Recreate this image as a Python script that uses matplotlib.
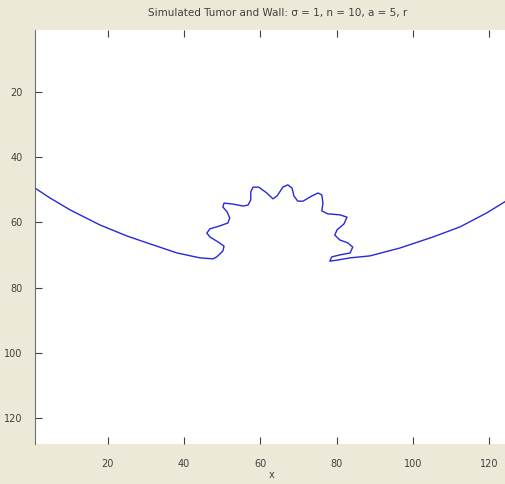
import numpy as np
import matplotlib
matplotlib.use("Agg")
import matplotlib.pyplot as plt

# contour of the simulated wall with the tumour bulging out of it (image coords, 1..128)
wall_x = [1.0, 4.9, 10.2, 18.0, 25.1, 31.1, 38.2, 44.2, 47.6, 48.6,
          50.2, 50.5, 48.9, 46.8, 46.0, 46.8, 49.4, 51.5, 52.0, 51.3,
          50.2, 50.5, 52.8, 55.5, 56.8, 57.5, 57.5, 58.1, 59.6, 61.7,
          63.3, 64.4, 65.9, 67.2, 68.3, 68.8, 69.8, 71.2, 73.5, 75.1,
          76.1, 76.4, 76.1, 77.7, 80.8, 82.7, 81.9, 80.1, 79.5, 80.8,
          82.9, 84.2, 83.5, 80.8, 78.7, 78.2, 80.1, 83.5, 88.7, 96.5,
          105.2, 112.3, 119.3, 124.3, 128.0]
wall_y = [49.5, 52.5, 56.2, 60.8, 64.2, 66.6, 69.4, 70.9, 71.2, 70.6,
          68.8, 67.3, 66.0, 64.5, 63.3, 62.0, 61.1, 60.2, 58.7, 56.8,
          55.3, 54.1, 54.4, 55.0, 54.7, 53.1, 50.7, 49.2, 49.2, 51.0,
          52.8, 51.9, 49.2, 48.5, 49.5, 51.9, 53.5, 53.5, 51.9, 51.0,
          51.6, 54.1, 56.5, 57.4, 57.7, 58.4, 60.5, 62.3, 63.9, 65.4,
          66.3, 67.6, 69.4, 70.0, 70.6, 71.9, 71.6, 70.9, 70.3, 67.9,
          64.5, 61.4, 57.1, 53.5, 51.0]

x_ticks = [20, 40, 60, 80, 100, 120]
y_ticks = [20, 40, 60, 80, 100, 120]
img_size = 128

plt.rcParams['font.family'] = ['DejaVu Sans']

fig = plt.figure(figsize=(5.06, 4.84), dpi=100, facecolor='#ece9d8')
# axes run a bit past the right edge of the window
ax = fig.add_axes([35 / 506, 40 / 484, 485 / 506, 414 / 484])
ax.set_facecolor('white')

ax.plot(wall_x, wall_y, color='#2828d8', lw=1.0, solid_joinstyle='round')

ax.set_xlim(1, img_size)
ax.set_ylim(img_size, 1)   # axis ij
ax.set_xticks(x_ticks)
ax.set_yticks(y_ticks)
ax.tick_params(direction='in', length=5, width=0.8, labelsize=7,
               colors='#404040', top=True, right=True)
ax.tick_params(axis='x', pad=11)
ax.tick_params(axis='y', pad=9)
for s in ax.spines.values():
    s.set_visible(False)
ax.spines['left'].set_visible(True)
ax.spines['left'].set_color('#707070')

ax.set_title('Simulated Tumor and Wall: \u03c3 = 1, n = 10, a = 5, r',
             fontsize=7.5, color='#404040', pad=10)
ax.set_xlabel('x', fontsize=7, color='#404040')
# keep the label inside the window, centred under the visible part
ax.xaxis.set_label_coords(237 / 485, -26 / 414)

fig.savefig('out.png', dpi=100, facecolor=fig.get_facecolor())
